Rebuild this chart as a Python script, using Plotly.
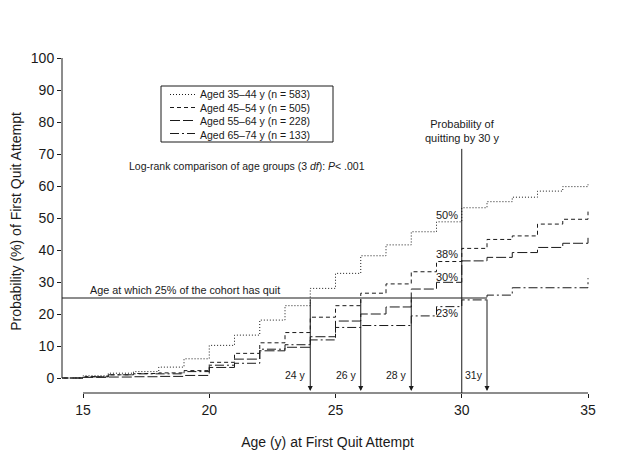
import plotly.graph_objects as go

# ---------------- data ----------------
ages = list(range(14, 36))  # step starts; value holds from that age on

p_35_44 = [0, 0.7, 1.5, 2.0, 3.4, 6.0, 10.2, 13.4, 18.1, 22.6, 28.0, 32.7,
           38.2, 41.6, 45.7, 48.8, 53.2, 55.1, 56.5, 58.4, 59.8, 60.5]
p_45_54 = [0, 0.4, 1.0, 1.4, 1.6, 2.3, 4.9, 7.7, 11.0, 14.2, 19.0, 22.6,
           26.5, 29.4, 33.2, 36.4, 40.5, 43.3, 44.4, 48.1, 49.6, 52.0]
p_55_64 = [0, 0.2, 0.3, 0.4, 0.5, 0.8, 3.3, 5.9, 8.5, 9.6, 12.9, 17.8,
           20.0, 22.2, 27.8, 29.9, 36.6, 37.7, 39.2, 40.8, 42.1, 43.8]
p_65_74 = [0, 0.4, 1.0, 1.3, 1.3, 2.0, 4.0, 4.6, 9.0, 10.4, 11.9, 15.8,
           16.4, 16.4, 19.4, 22.3, 24.4, 25.9, 28.2, 28.2, 28.2, 31.2]

series = [p_35_44, p_45_54, p_55_64, p_65_74]
group_labels = ["Aged 35–44 y (n = 583)", "Aged 45–54 y (n = 505)",
                "Aged 55–64 y (n = 228)", "Aged 65–74 y (n = 133)"]
dash_styles = ["1px,2px", "4px,3px", "10px,3px", "9px,3px,2px,3px"]

x_ticks = [15, 20, 25, 30, 35]
y_ticks = list(range(0, 101, 10))

quit_ages = [24, 26, 28, 31]          # ages where 25% have quit
quit_labels = ["24 y", "26 y", "28 y", "31y"]
pct_at_30 = [50, 38, 30, 23]
pct_label_y = [51.0, 38.8, 31.6, 20.2]
threshold = 25
marker_age = 30

# ---------------- layout constants ----------------
# page body has an 8px margin, so the figure is placed at (8, 8)
OFF = 8
W, H = 624, 448
ML, MT = 54, 42
PW, PH = 531, 343
MR, MB = W - ML - PW, H - MT - PH
X_RANGE = [14.168, 35.198]
Y_RANGE = [-4.6875, 102.5]
FONT = "Liberation Sans, Arial, sans-serif"
INK = "#1a1a1a"


def px_x(p):  # page pixel -> paper x
    return (p - OFF - ML) / PW


def px_y(p):  # page pixel -> paper y
    return (OFF + MT + PH - p) / PH


fig = go.Figure()
for vals, lab, d in zip(series, group_labels, dash_styles):
    fig.add_trace(go.Scatter(
        x=ages, y=vals, mode="lines", name=lab, line_shape="hv",
        line=dict(color=INK, width=1, dash=d), showlegend=False))

shapes = []
# y axis line 0..100
shapes.append(dict(type="line", xref="paper", yref="y", x0=0, x1=0,
                   y0=0, y1=100, line=dict(color=INK, width=1)))
# x axis line 15..35
shapes.append(dict(type="line", xref="x", yref="paper", x0=x_ticks[0],
                   x1=x_ticks[-1], y0=0, y1=0, line=dict(color=INK, width=1)))
# 25% line
shapes.append(dict(type="line", xref="x", yref="y", x0=X_RANGE[0],
                   x1=quit_ages[-1], y0=threshold, y1=threshold,
                   line=dict(color=INK, width=1)))
# vertical line at 30 y
shapes.append(dict(type="line", xref="x", yref="y", x0=marker_age,
                   x1=marker_age, y0=Y_RANGE[0], y1=71.6,
                   line=dict(color=INK, width=1)))

# manual legend (box, key lines, one multi-line text)
LEG_CY = 114
ROW = 13
shapes.append(dict(type="rect", xref="paper", yref="paper",
                   x0=px_x(161), x1=px_x(333),
                   y0=px_y(LEG_CY + 2 * ROW + 2), y1=px_y(LEG_CY - 2 * ROW - 2),
                   line=dict(color=INK, width=1), fillcolor="white"))
annotations = []
for i, d in enumerate(dash_styles):
    ry = LEG_CY + (i - 1.5) * ROW
    shapes.append(dict(type="line", xref="paper", yref="paper",
                       x0=px_x(170), x1=px_x(195), y0=px_y(ry), y1=px_y(ry),
                       line=dict(color=INK, width=1, dash=d)))
annotations.append(dict(xref="paper", yref="paper", x=px_x(198),
                        y=px_y(LEG_CY), text="<br>".join(group_labels),
                        showarrow=False, xanchor="left", yanchor="middle",
                        align="left",
                        font=dict(size=10.5, color=INK, family=FONT)))

# arrows down from the 25% line
for a, lab in zip(quit_ages, quit_labels):
    annotations.append(dict(x=a, y=Y_RANGE[0] + 0.6, ax=a, ay=threshold,
                            xref="x", yref="y", axref="x", ayref="y",
                            text="", showarrow=True, arrowhead=2,
                            arrowsize=1, arrowwidth=1, arrowcolor=INK))
    annotations.append(dict(x=a, y=1.0, xref="x", yref="y", text=lab,
                            showarrow=False, xanchor="right", xshift=-2,
                            yanchor="middle",
                            font=dict(size=10.5, color=INK, family=FONT)))

# percent labels at 30 y
for p, yy in zip(pct_at_30, pct_label_y):
    annotations.append(dict(x=marker_age, y=yy, xref="x", yref="y",
                            text=f"{p}%", showarrow=False, xanchor="right",
                            xshift=-2, yanchor="middle",
                            font=dict(size=11, color=INK, family=FONT)))

annotations.append(dict(x=marker_age, y=72.5, xref="x", yref="y",
                        text="Probability of<br>quitting by 30 y",
                        showarrow=False, xanchor="center", yanchor="bottom",
                        font=dict(size=11, color=INK, family=FONT)))
annotations.append(dict(x=21.5, y=66.2, xref="x", yref="y",
                        text="Log-rank comparison of age groups (3 <i>df</i>): <i>P</i>< .001",
                        showarrow=False, xanchor="center", yanchor="middle",
                        font=dict(size=10.5, color=INK, family=FONT)))
annotations.append(dict(x=19.04, y=threshold, xref="x", yref="y",
                        text="Age at which 25% of the cohort has quit",
                        showarrow=False, xanchor="center", yanchor="bottom",
                        font=dict(size=10.8, color=INK, family=FONT)))

fig.update_layout(
    width=W, height=H,
    margin=dict(l=ML, r=MR, t=MT, b=MB, autoexpand=False),
    paper_bgcolor="white", plot_bgcolor="white",
    font=dict(family=FONT, color=INK),
    shapes=shapes, annotations=annotations, showlegend=False,
    xaxis=dict(range=X_RANGE, tickvals=x_ticks, ticks="outside", ticklen=4,
               tickcolor=INK, showline=False, showgrid=False, zeroline=False,
               tickfont=dict(size=14, family=FONT, color=INK),
               title=dict(text="Age (y) at First Quit Attempt",
                          font=dict(size=14, family=FONT, color=INK),
                          standoff=20)),
    yaxis=dict(range=Y_RANGE, tickvals=y_ticks, ticks="outside", ticklen=4,
               tickcolor=INK, showline=False, showgrid=False, zeroline=False,
               tickfont=dict(size=14, family=FONT, color=INK),
               title=dict(text="Probability (%) of First Quit Attempt",
                          font=dict(size=14, family=FONT, color=INK),
                          standoff=7)),
)

fig.write_html("out.html")
